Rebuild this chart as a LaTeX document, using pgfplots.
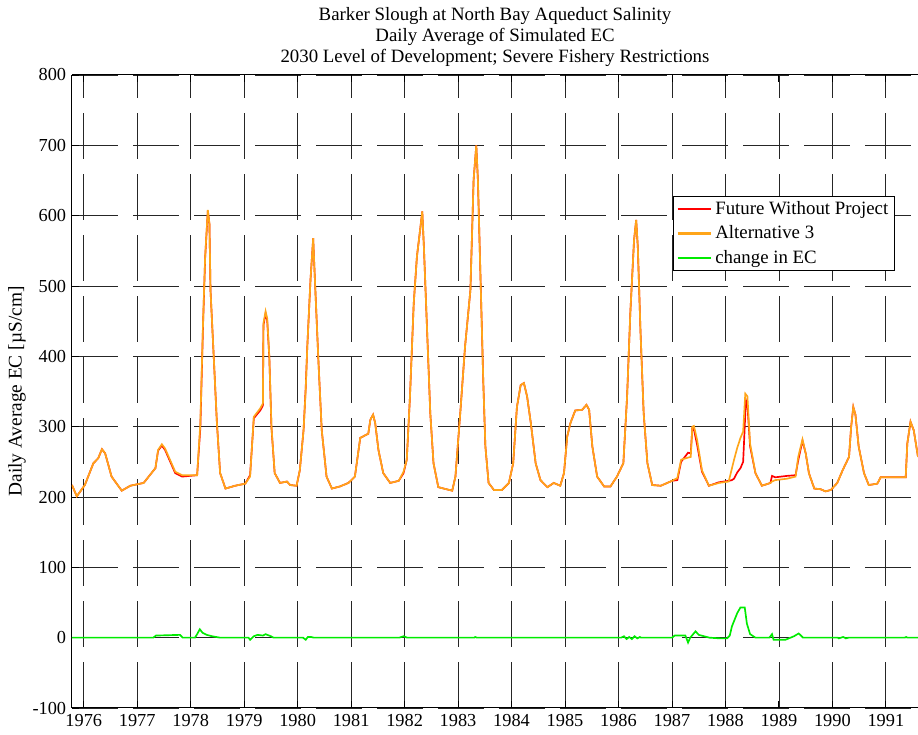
\documentclass[border=0pt]{standalone}
\usepackage{fontspec}
\setmainfont{Liberation Serif}
\usepackage{pgfplots}
\pgfplotsset{compat=1.18}

\definecolor{fwop}{RGB}{255,0,0}
\definecolor{alt}{RGB}{255,165,25}
\definecolor{chg}{RGB}{0,235,0}

\begin{document}
\begin{tikzpicture}
\begin{axis}[
    width=507.6pt, height=379.8pt, scale only axis,
    xmin=1975.78, xmax=1991.6,
    ymin=-100, ymax=800,
    xtick={1976,1977,...,1991},
    ytick={-100,0,100,...,800},
    xticklabel style={/pgf/number format/1000 sep={}},
    /pgf/number format/assume math mode=true,
    tick label style={font=\fontsize{11}{13}\selectfont},
    axis x line*=box, axis y line*=left,
    axis line style={line width=0.6pt},
    tick style={black, line width=0.5pt},
    major tick length=4pt,
    grid=major,
    major grid style={black!85, line width=0.45pt, dash pattern=on 27.6pt off 9pt},
    title style={at={(axis description cs:0.5,1)}, anchor=south, yshift=-4.4pt,
                 align=center, font=\fontsize{11.3}{12.6}\selectfont},
    title={Barker Slough at North Bay Aqueduct Salinity\\Daily Average of Simulated EC\\2030 Level of Development; Severe Fishery Restrictions},
    ylabel={Daily Average EC [µS/cm]},
    every axis y label/.style={at={(axis description cs:-0.0650,0.5)}, rotate=90,
                 anchor=center, font=\fontsize{11.6}{13}\selectfont},
    legend style={at={(0.710,0.809)}, anchor=north west, draw=black,
                  line width=0.6pt, font=\fontsize{11.3}{13}\selectfont,
                  inner xsep=2pt, inner ysep=1pt, row sep=1.3pt,
                  fill=white},
    legend cell align=left,
    legend image code/.code={\draw[#1, line width=1.3pt] (0pt,0pt) -- (20pt,0pt);},
]

% Future Without Project
\addplot[fwop, line width=1pt] coordinates {
(1975.78,217)(1975.87,201)(1976.02,217)(1976.18,248)(1976.27,255)(1976.34,268)
(1976.40,262)(1976.52,229)(1976.71,209)(1976.87,216)(1977.12,220)(1977.34,241)
(1977.39,266)(1977.46,273)(1977.52,267)(1977.71,234)(1977.84,229)(1978.12,231)
(1978.18,298)(1978.23,443)(1978.27,540)(1978.32,607)(1978.35,588)(1978.37,494)
(1978.43,400)(1978.49,305)(1978.55,234)(1978.65,212)(1978.83,216)(1979.02,219)
(1979.11,231)(1979.18,312)(1979.30,323)(1979.35,330)(1979.36,444)(1979.40,461)
(1979.43,451)(1979.47,398)(1979.51,298)(1979.57,234)(1979.67,220)(1979.80,222)
(1979.86,217)(1979.98,216)(1980.04,238)(1980.11,295)(1980.15,355)(1980.18,414)
(1980.24,509)(1980.29,568)(1980.32,513)(1980.39,390)(1980.45,295)(1980.54,229)
(1980.64,212)(1980.79,215)(1980.95,220)(1981.07,229)(1981.17,284)(1981.32,290)
(1981.36,310)(1981.41,317)(1981.45,305)(1981.51,267)(1981.60,234)(1981.73,220)
(1981.89,223)(1981.98,234)(1982.04,253)(1982.10,343)(1982.17,475)(1982.23,542)
(1982.29,580)(1982.33,606)(1982.36,556)(1982.42,437)(1982.48,319)(1982.54,248)
(1982.63,214)(1982.73,212)(1982.89,209)(1982.95,229)(1983.04,319)(1983.13,414)
(1983.23,494)(1983.29,651)(1983.34,700)(1983.37,651)(1983.42,509)(1983.47,366)
(1983.51,272)(1983.57,220)(1983.67,210)(1983.82,210)(1983.95,220)(1984.03,248)
(1984.10,328)(1984.17,359)(1984.23,362)(1984.29,343)(1984.36,305)(1984.45,248)
(1984.54,224)(1984.67,214)(1984.79,220)(1984.91,216)(1984.98,234)(1985.04,286)
(1985.10,305)(1985.19,323)(1985.32,324)(1985.40,331)(1985.45,324)(1985.51,272)
(1985.60,229)(1985.73,215)(1985.85,215)(1985.97,229)(1986.09,248)(1986.16,343)
(1986.22,461)(1986.29,565)(1986.33,594)(1986.36,556)(1986.41,437)(1986.47,319)
(1986.54,248)(1986.63,217)(1986.79,216)(1987.00,223)(1987.10,224)(1987.17,250)
(1987.30,263)(1987.35,262)(1987.38,298)(1987.41,296)(1987.47,274)(1987.56,236)
(1987.69,216)(1987.88,221)(1988.06,223)(1988.12,224)(1988.16,226)(1988.22,235)
(1988.28,241)(1988.33,250)(1988.36,300)(1988.38,338)(1988.41,330)(1988.46,272)
(1988.56,234)(1988.68,216)(1988.84,220)(1988.87,230)(1988.93,228)(1989.15,230)
(1989.31,231)(1989.36,252)(1989.44,280)(1989.50,262)(1989.56,234)(1989.66,212)
(1989.78,211)(1989.87,208)(1989.97,210)(1990.09,220)(1990.19,238)(1990.31,257)
(1990.35,300)(1990.39,328)(1990.43,317)(1990.49,272)(1990.59,234)(1990.68,217)
(1990.84,219)(1990.90,228)(1991.37,228)(1991.40,276)(1991.46,307)(1991.52,295)
(1991.60,257)
};
\addlegendentry{Future Without Project}

% Alternative 3
\addplot[alt, line width=1pt] coordinates {
(1975.78,217)(1975.87,201)(1976.02,217)(1976.18,248)(1976.27,255)(1976.34,268)
(1976.40,262)(1976.52,229)(1976.71,209)(1976.87,216)(1977.12,220)(1977.34,241)
(1977.39,267)(1977.46,275)(1977.52,269)(1977.71,236)(1977.84,231)(1978.12,231)
(1978.18,305)(1978.23,447)(1978.27,542)(1978.32,608)(1978.35,589)(1978.37,494)
(1978.43,400)(1978.49,305)(1978.55,234)(1978.65,212)(1978.83,216)(1979.02,219)
(1979.11,229)(1979.18,314)(1979.30,326)(1979.35,333)(1979.36,447)(1979.40,464)
(1979.43,454)(1979.47,400)(1979.51,300)(1979.57,234)(1979.67,220)(1979.80,222)
(1979.86,217)(1979.98,216)(1980.04,238)(1980.11,295)(1980.15,352)(1980.18,414)
(1980.24,509)(1980.29,568)(1980.32,513)(1980.39,390)(1980.45,295)(1980.54,229)
(1980.64,212)(1980.79,215)(1980.95,220)(1981.07,229)(1981.17,284)(1981.32,290)
(1981.36,310)(1981.41,317)(1981.45,305)(1981.51,267)(1981.60,234)(1981.73,220)
(1981.89,223)(1981.98,236)(1982.04,253)(1982.10,343)(1982.17,475)(1982.23,542)
(1982.29,580)(1982.33,606)(1982.36,556)(1982.42,437)(1982.48,319)(1982.54,248)
(1982.63,214)(1982.73,212)(1982.89,209)(1982.95,229)(1983.04,319)(1983.13,414)
(1983.23,494)(1983.29,651)(1983.34,700)(1983.37,651)(1983.42,509)(1983.47,366)
(1983.51,272)(1983.57,220)(1983.67,210)(1983.82,210)(1983.95,220)(1984.03,248)
(1984.10,328)(1984.17,359)(1984.23,362)(1984.29,343)(1984.36,305)(1984.45,248)
(1984.54,224)(1984.67,214)(1984.79,220)(1984.91,216)(1984.98,234)(1985.04,286)
(1985.10,305)(1985.19,323)(1985.32,324)(1985.40,331)(1985.45,324)(1985.51,272)
(1985.60,229)(1985.73,215)(1985.85,215)(1985.97,229)(1986.09,248)(1986.16,343)
(1986.22,461)(1986.29,565)(1986.33,594)(1986.36,556)(1986.41,437)(1986.47,319)
(1986.54,248)(1986.63,217)(1986.79,216)(1987.00,223)(1987.10,227)(1987.17,253)
(1987.30,256)(1987.35,257)(1987.38,300)(1987.41,301)(1987.47,281)(1987.56,238)
(1987.69,216)(1987.88,220)(1988.06,222)(1988.16,253)(1988.22,270)(1988.28,284)
(1988.33,293)(1988.37,347)(1988.41,343)(1988.46,276)(1988.56,234)(1988.68,216)
(1988.84,220)(1988.87,222)(1988.93,224)(1989.15,226)(1989.31,229)(1989.36,257)
(1989.44,282)(1989.50,262)(1989.56,234)(1989.66,212)(1989.78,211)(1989.87,208)
(1989.97,210)(1990.09,220)(1990.19,238)(1990.31,257)(1990.35,300)(1990.39,328)
(1990.43,317)(1990.49,272)(1990.59,234)(1990.68,217)(1990.84,219)(1990.90,228)
(1991.37,228)(1991.40,276)(1991.46,307)(1991.52,295)(1991.60,257)
};
\addlegendentry{Alternative 3}

% change in EC
\addplot[chg, line width=1pt] coordinates {
(1975.78,0)(1977.30,0)(1977.35,3)(1977.80,4)(1977.85,0)(1978.08,0)(1978.12,5)
(1978.17,12)(1978.22,7)(1978.30,4)(1978.40,2)(1978.55,0)(1979.08,0)(1979.11,-3)
(1979.18,2)(1979.25,4)(1979.35,3)(1979.40,5)(1979.50,2)(1979.55,0)(1980.10,0)
(1980.15,-3)(1980.19,1)(1980.25,1)(1980.30,0)(1981.90,0)(1981.98,2)(1982.05,0)
(1983.30,0)(1983.32,1)(1983.35,0)(1986.05,0)(1986.10,2)(1986.15,-2)(1986.20,1)
(1986.25,-2)(1986.30,2)(1986.35,-1)(1986.40,1)(1986.42,0)(1987.00,0)(1987.05,3)
(1987.25,3)(1987.30,-7)(1987.34,0)(1987.44,9)(1987.50,4)(1987.60,2)(1987.70,0)
(1987.90,-1)(1988.03,-1)(1988.08,3)(1988.12,16)(1988.22,35)(1988.28,43)
(1988.36,43)(1988.40,20)(1988.46,5)(1988.56,0)(1988.82,0)(1988.87,5)(1988.90,-3)
(1989.12,-3)(1989.28,2)(1989.37,6)(1989.45,0)(1990.10,0)(1990.12,-1)(1990.20,1)
(1990.25,-1)(1990.30,0)(1991.35,0)(1991.38,1)(1991.40,0)(1991.60,0)
};
\addlegendentry{change in EC}

\end{axis}
\pgfresetboundingbox
\path[use as bounding box] ([xshift=-43.2pt,yshift=-16.2pt]current axis.south west)
    rectangle ([yshift=45pt]current axis.north east);
\end{tikzpicture}
\end{document}
